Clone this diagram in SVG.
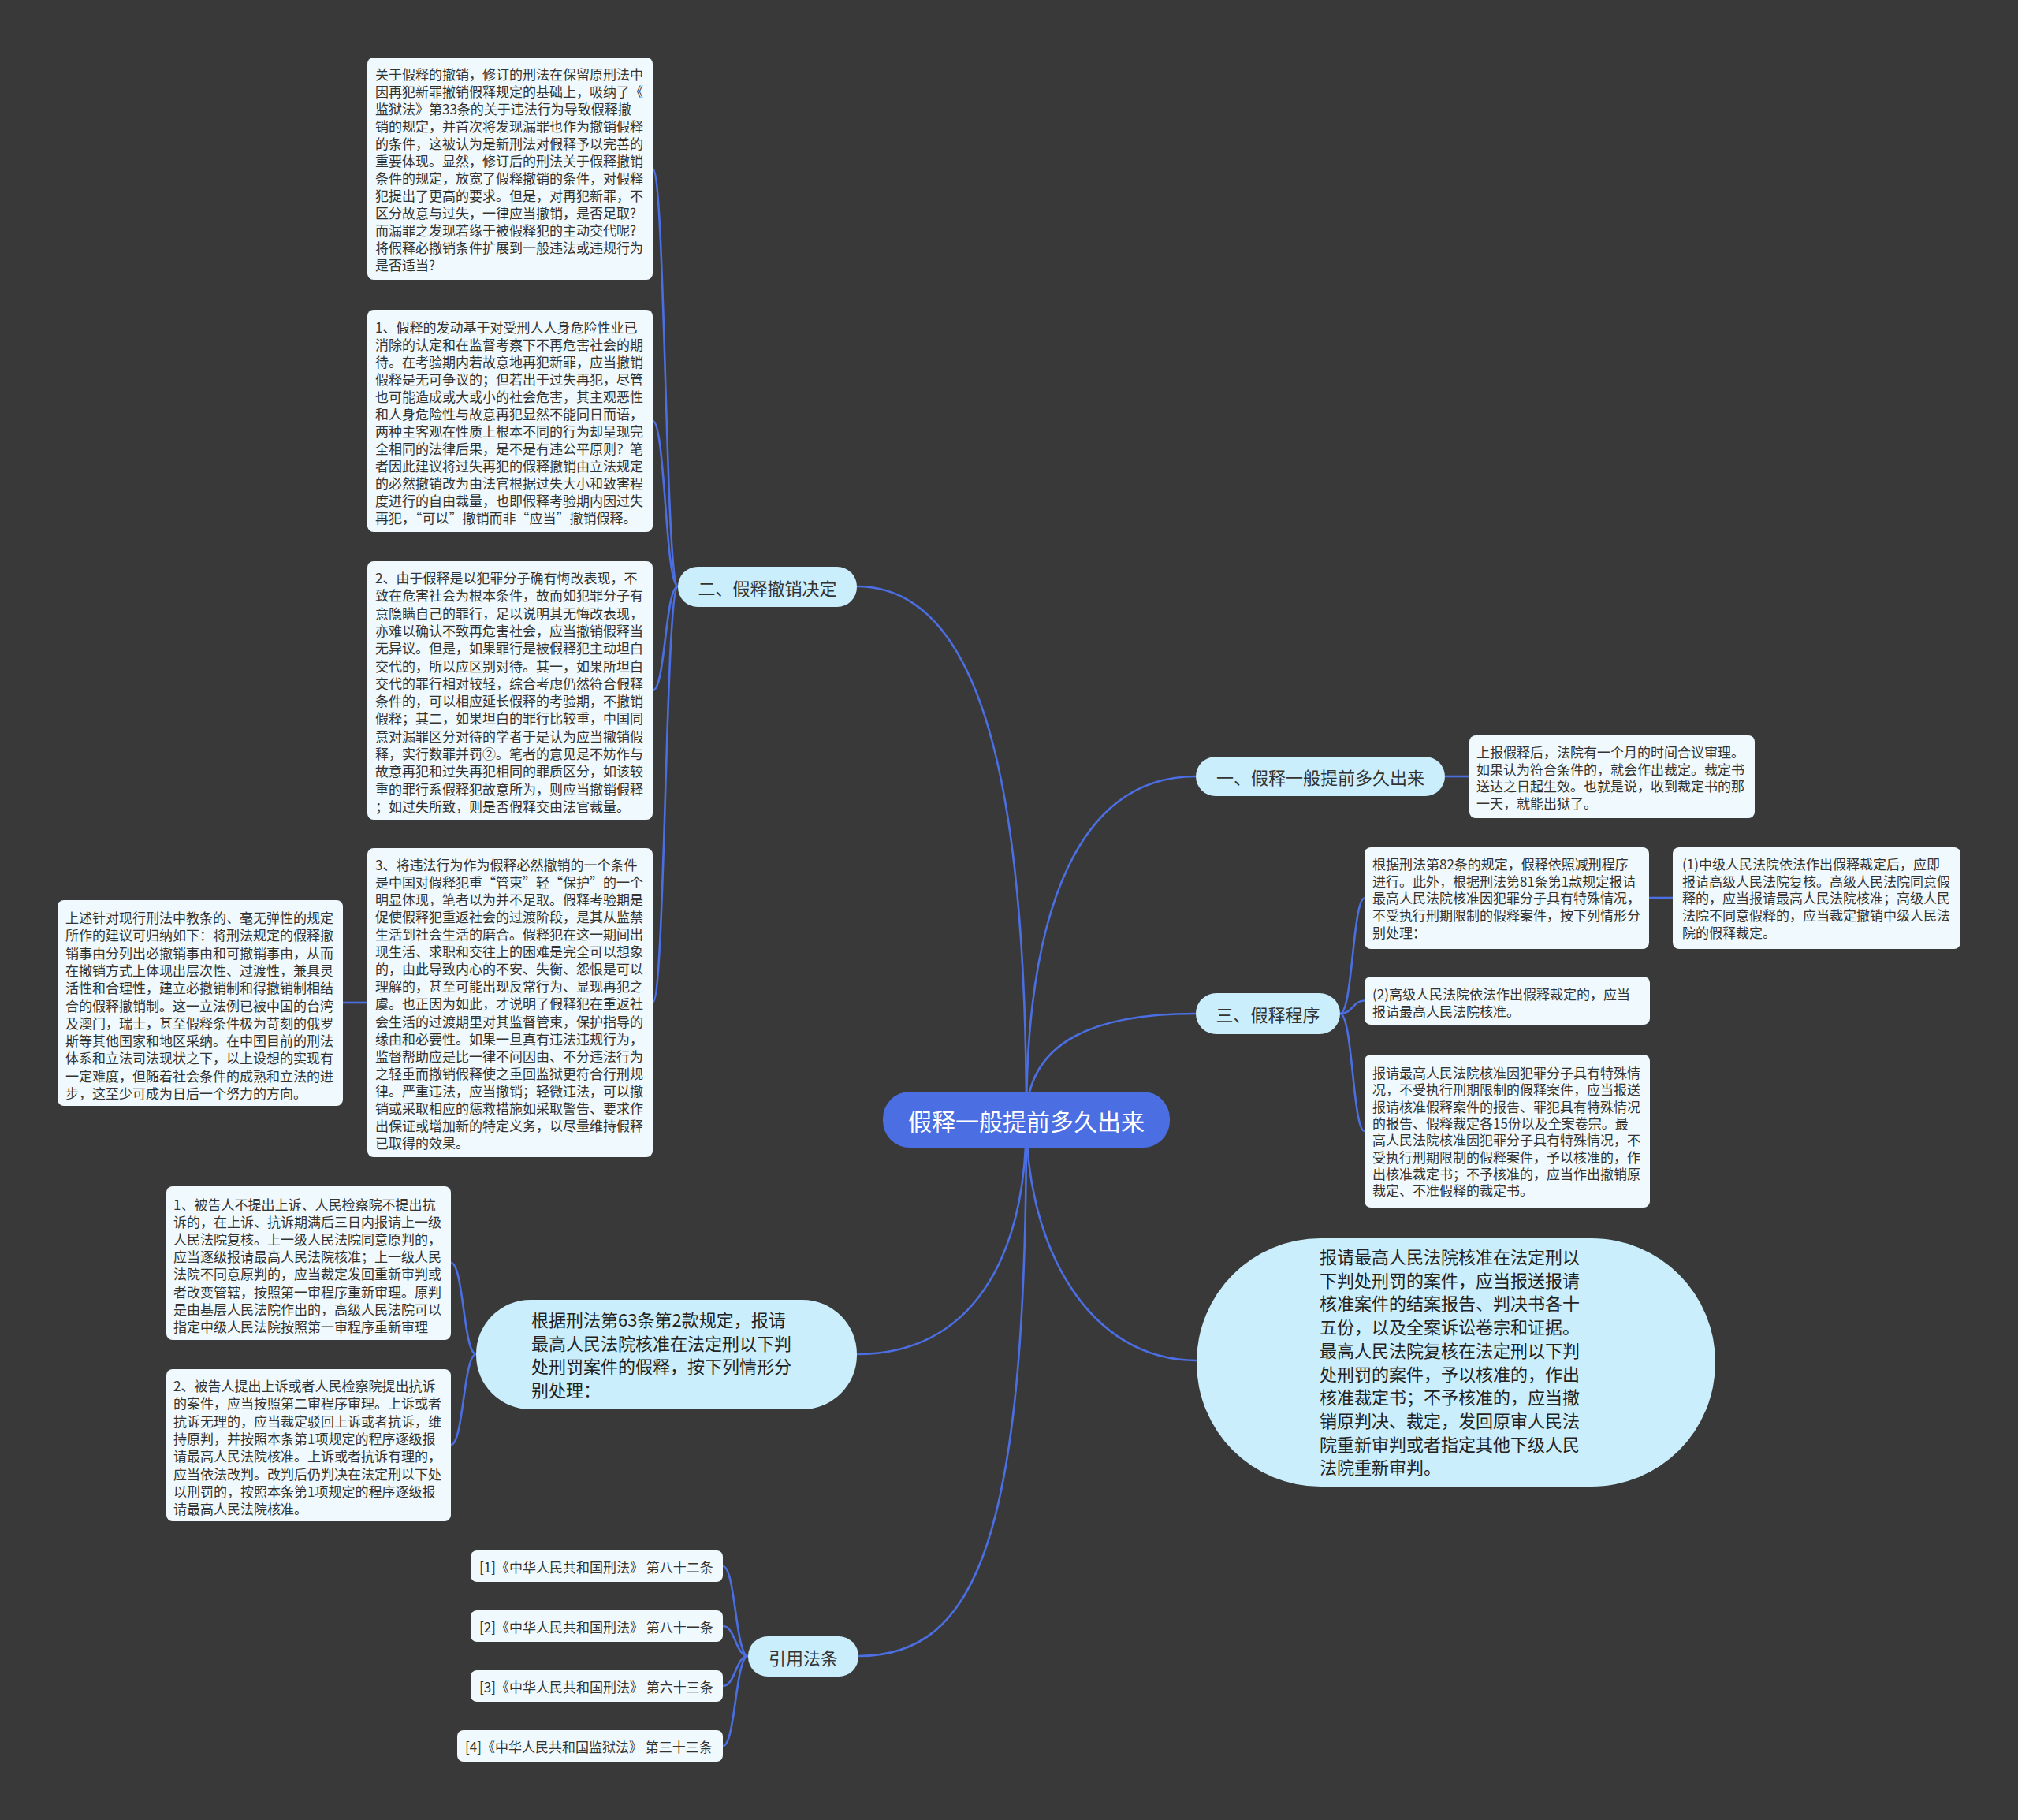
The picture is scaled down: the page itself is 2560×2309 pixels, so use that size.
<svg xmlns="http://www.w3.org/2000/svg" width="2560" height="2309" viewBox="0 0 2560 2309">
<style>
text{font-family:"Noto Sans CJK SC","Noto Sans",sans-serif;dominant-baseline:central;}
.leaf rect{fill:#f0fafe;}
.leaf text{font-size:17px;fill:#333;}
.br rect{fill:#caeefc;}
.br text{font-size:22px;fill:#333;}
.big text{font-size:22px;fill:#222;}
.conn path{fill:none;stroke:#4b6ee2;stroke-width:2.6;}
</style>
<rect x="0" y="0" width="2560" height="2309" fill="#393939"/>
<g id="connectors" class="conn">
<path d="M1087,744 C1260,744 1302,1050 1302,1420"/>
<path d="M1302,1420 C1302,1150 1370,985 1517,985"/>
<path d="M1302,1420 C1302,1320 1390,1286 1517,1286"/>
<path d="M1302,1420 C1302,1580 1380,1726 1518,1726"/>
<path d="M1302,1420 C1302,1600 1230,1718 1087,1718"/>
<path d="M1302,1420 C1302,1950 1240,2101 1089,2101"/>
<path d="M860,744 C844,744 844,214 828,214"/>
<path d="M860,744 C844,744 844,534 828,534"/>
<path d="M860,744 C844,744 844,876 828,876"/>
<path d="M860,744 C844,744 844,1272 828,1272"/>
<path d="M466,1272 L435,1272"/>
<path d="M1833,985 L1864,985"/>
<path d="M1700,1286 C1716,1286 1716,1139.5 1731,1139.5"/>
<path d="M1700,1286 C1716,1286 1716,1269.5 1731,1269.5"/>
<path d="M1700,1286 C1716,1286 1716,1435 1731,1435"/>
<path d="M2092,1139 L2122,1139"/>
<path d="M604,1718 C588,1718 588,1602 572,1602"/>
<path d="M604,1718 C588,1718 588,1833 572,1833"/>
<path d="M949,2101 C933,2101 933,1987 917,1987"/>
<path d="M949,2101 C933,2101 933,2063 917,2063"/>
<path d="M949,2101 C933,2101 933,2139 917,2139"/>
<path d="M949,2101 C933,2101 933,2215 917,2215"/>
</g>
<g id="center">
<rect x="1120" y="1385" width="364" height="71" rx="34" fill="#4b6ee2"/>
<text x="1302" y="1421" text-anchor="middle" font-size="30" fill="#ffffff">假释一般提前多久出来</text>
</g>
<g id="branch-revoke" class="br">
<rect x="860" y="719" width="227" height="51" rx="25"/>
<text x="973.5" y="744.5" text-anchor="middle">二、假释撤销决定</text>
</g>
<g id="branch-when" class="br">
<rect x="1517" y="960" width="316" height="50" rx="25"/>
<text x="1675" y="985" text-anchor="middle">一、假释一般提前多久出来</text>
</g>
<g id="branch-proc" class="br">
<rect x="1517" y="1260" width="183" height="52" rx="26"/>
<text x="1608.5" y="1286" text-anchor="middle">三、假释程序</text>
</g>
<g id="branch-cite" class="br">
<rect x="949" y="2076" width="140" height="51" rx="25"/>
<text x="1019" y="2101.5" text-anchor="middle">引用法条</text>
</g>
<g id="branch-big" class="br big">
<rect x="1518" y="1571" width="658" height="315" rx="157"/>
<text x="1674" y="1593"><tspan x="1674" dy="0">报请最高人民法院核准在法定刑以</tspan><tspan x="1674" dy="29.7">下判处刑罚的案件，应当报送报请</tspan><tspan x="1674" dy="29.7">核准案件的结案报告、判决书各十</tspan><tspan x="1674" dy="29.7">五份，以及全案诉讼卷宗和证据。</tspan><tspan x="1674" dy="29.7">最高人民法院复核在法定刑以下判</tspan><tspan x="1674" dy="29.7">处刑罚的案件，予以核准的，作出</tspan><tspan x="1674" dy="29.7">核准裁定书；不予核准的，应当撤</tspan><tspan x="1674" dy="29.7">销原判决、裁定，发回原审人民法</tspan><tspan x="1674" dy="29.7">院重新审判或者指定其他下级人民</tspan><tspan x="1674" dy="29.7">法院重新审判。</tspan></text>
</g>
<g id="branch-63" class="br big">
<rect x="604" y="1649" width="483" height="139" rx="69"/>
<text x="674" y="1673"><tspan x="674" dy="0">根据刑法第63条第2款规定，报请</tspan><tspan x="674" dy="29.6">最高人民法院核准在法定刑以下判</tspan><tspan x="674" dy="29.6">处刑罚案件的假释，按下列情形分</tspan><tspan x="674" dy="29.6">别处理：</tspan></text>
</g>
<g id="leaf-a" class="leaf">
<rect x="466" y="73" width="362" height="282" rx="8"/>
<text x="476" y="93"><tspan x="476" dy="0">关于假释的撤销，修订的刑法在保留原刑法中</tspan><tspan x="476" dy="22">因再犯新罪撤销假释规定的基础上，吸纳了《</tspan><tspan x="476" dy="22">监狱法》第33条的关于违法行为导致假释撤</tspan><tspan x="476" dy="22">销的规定，并首次将发现漏罪也作为撤销假释</tspan><tspan x="476" dy="22">的条件，这被认为是新刑法对假释予以完善的</tspan><tspan x="476" dy="22">重要体现。显然，修订后的刑法关于假释撤销</tspan><tspan x="476" dy="22">条件的规定，放宽了假释撤销的条件，对假释</tspan><tspan x="476" dy="22">犯提出了更高的要求。但是，对再犯新罪，不</tspan><tspan x="476" dy="22">区分故意与过失，一律应当撤销，是否足取?</tspan><tspan x="476" dy="22">而漏罪之发现若缘于被假释犯的主动交代呢?</tspan><tspan x="476" dy="22">将假释必撤销条件扩展到一般违法或违规行为</tspan><tspan x="476" dy="22">是否适当?</tspan></text>
</g>
<g id="leaf-b" class="leaf">
<rect x="466" y="393" width="362" height="282" rx="8"/>
<text x="476" y="414"><tspan x="476" dy="0">1、假释的发动基于对受刑人人身危险性业已</tspan><tspan x="476" dy="22">消除的认定和在监督考察下不再危害社会的期</tspan><tspan x="476" dy="22">待。在考验期内若故意地再犯新罪，应当撤销</tspan><tspan x="476" dy="22">假释是无可争议的；但若出于过失再犯，尽管</tspan><tspan x="476" dy="22">也可能造成或大或小的社会危害，其主观恶性</tspan><tspan x="476" dy="22">和人身危险性与故意再犯显然不能同日而语，</tspan><tspan x="476" dy="22">两种主客观在性质上根本不同的行为却呈现完</tspan><tspan x="476" dy="22">全相同的法律后果，是不是有违公平原则？笔</tspan><tspan x="476" dy="22">者因此建议将过失再犯的假释撤销由立法规定</tspan><tspan x="476" dy="22">的必然撤销改为由法官根据过失大小和致害程</tspan><tspan x="476" dy="22">度进行的自由裁量，也即假释考验期内因过失</tspan><tspan x="476" dy="22">再犯，“可以”撤销而非“应当”撤销假释。</tspan></text>
</g>
<g id="leaf-c" class="leaf">
<rect x="466" y="712" width="362" height="328" rx="8"/>
<text x="476" y="732"><tspan x="476" dy="0">2、由于假释是以犯罪分子确有悔改表现，不</tspan><tspan x="476" dy="22.3">致在危害社会为根本条件，故而如犯罪分子有</tspan><tspan x="476" dy="22.3">意隐瞒自己的罪行，足以说明其无悔改表现，</tspan><tspan x="476" dy="22.3">亦难以确认不致再危害社会，应当撤销假释当</tspan><tspan x="476" dy="22.3">无异议。但是，如果罪行是被假释犯主动坦白</tspan><tspan x="476" dy="22.3">交代的，所以应区别对待。其一，如果所坦白</tspan><tspan x="476" dy="22.3">交代的罪行相对较轻，综合考虑仍然符合假释</tspan><tspan x="476" dy="22.3">条件的，可以相应延长假释的考验期，不撤销</tspan><tspan x="476" dy="22.3">假释；其二，如果坦白的罪行比较重，中国同</tspan><tspan x="476" dy="22.3">意对漏罪区分对待的学者于是认为应当撤销假</tspan><tspan x="476" dy="22.3">释，实行数罪并罚②。笔者的意见是不妨作与</tspan><tspan x="476" dy="22.3">故意再犯和过失再犯相同的罪质区分，如该较</tspan><tspan x="476" dy="22.3">重的罪行系假释犯故意所为，则应当撤销假释</tspan><tspan x="476" dy="22.3">；如过失所致，则是否假释交由法官裁量。</tspan></text>
</g>
<g id="leaf-d" class="leaf">
<rect x="466" y="1076" width="362" height="392" rx="8"/>
<text x="476" y="1096"><tspan x="476" dy="0">3、将违法行为作为假释必然撤销的一个条件</tspan><tspan x="476" dy="22.06">是中国对假释犯重“管束”轻“保护”的一个</tspan><tspan x="476" dy="22.06">明显体现，笔者以为并不足取。假释考验期是</tspan><tspan x="476" dy="22.06">促使假释犯重返社会的过渡阶段，是其从监禁</tspan><tspan x="476" dy="22.06">生活到社会生活的磨合。假释犯在这一期间出</tspan><tspan x="476" dy="22.06">现生活、求职和交往上的困难是完全可以想象</tspan><tspan x="476" dy="22.06">的，由此导致内心的不安、失衡、怨恨是可以</tspan><tspan x="476" dy="22.06">理解的，甚至可能出现反常行为、显现再犯之</tspan><tspan x="476" dy="22.06">虞。也正因为如此，才说明了假释犯在重返社</tspan><tspan x="476" dy="22.06">会生活的过渡期里对其监督管束，保护指导的</tspan><tspan x="476" dy="22.06">缘由和必要性。如果一旦真有违法违规行为，</tspan><tspan x="476" dy="22.06">监督帮助应是比一律不问因由、不分违法行为</tspan><tspan x="476" dy="22.06">之轻重而撤销假释使之重回监狱更符合行刑规</tspan><tspan x="476" dy="22.06">律。严重违法，应当撤销；轻微违法，可以撤</tspan><tspan x="476" dy="22.06">销或采取相应的惩救措施如采取警告、要求作</tspan><tspan x="476" dy="22.06">出保证或增加新的特定义务，以尽量维持假释</tspan><tspan x="476" dy="22.06">已取得的效果。</tspan></text>
</g>
<g id="leaf-e" class="leaf">
<rect x="73" y="1142" width="362" height="261" rx="8"/>
<text x="83" y="1163"><tspan x="83" dy="0">上述针对现行刑法中教条的、毫无弹性的规定</tspan><tspan x="83" dy="22.3">所作的建议可归纳如下：将刑法规定的假释撤</tspan><tspan x="83" dy="22.3">销事由分列出必撤销事由和可撤销事由，从而</tspan><tspan x="83" dy="22.3">在撤销方式上体现出层次性、过渡性，兼具灵</tspan><tspan x="83" dy="22.3">活性和合理性，建立必撤销制和得撤销制相结</tspan><tspan x="83" dy="22.3">合的假释撤销制。这一立法例已被中国的台湾</tspan><tspan x="83" dy="22.3">及澳门，瑞士，甚至假释条件极为苛刻的俄罗</tspan><tspan x="83" dy="22.3">斯等其他国家和地区采纳。在中国目前的刑法</tspan><tspan x="83" dy="22.3">体系和立法司法现状之下，以上设想的实现有</tspan><tspan x="83" dy="22.3">一定难度，但随着社会条件的成熟和立法的进</tspan><tspan x="83" dy="22.3">步，这至少可成为日后一个努力的方向。</tspan></text>
</g>
<g id="leaf-f" class="leaf">
<rect x="211" y="1505" width="361" height="195" rx="8"/>
<text x="220" y="1527"><tspan x="220" dy="0">1、被告人不提出上诉、人民检察院不提出抗</tspan><tspan x="220" dy="22.1">诉的，在上诉、抗诉期满后三日内报请上一级</tspan><tspan x="220" dy="22.1">人民法院复核。上一级人民法院同意原判的，</tspan><tspan x="220" dy="22.1">应当逐级报请最高人民法院核准；上一级人民</tspan><tspan x="220" dy="22.1">法院不同意原判的，应当裁定发回重新审判或</tspan><tspan x="220" dy="22.1">者改变管辖，按照第一审程序重新审理。原判</tspan><tspan x="220" dy="22.1">是由基层人民法院作出的，高级人民法院可以</tspan><tspan x="220" dy="22.1">指定中级人民法院按照第一审程序重新审理</tspan></text>
</g>
<g id="leaf-g" class="leaf">
<rect x="211" y="1737" width="361" height="193" rx="8"/>
<text x="220" y="1757"><tspan x="220" dy="0">2、被告人提出上诉或者人民检察院提出抗诉</tspan><tspan x="220" dy="22.3">的案件，应当按照第二审程序审理。上诉或者</tspan><tspan x="220" dy="22.3">抗诉无理的，应当裁定驳回上诉或者抗诉，维</tspan><tspan x="220" dy="22.3">持原判，并按照本条第1项规定的程序逐级报</tspan><tspan x="220" dy="22.3">请最高人民法院核准。上诉或者抗诉有理的，</tspan><tspan x="220" dy="22.3">应当依法改判。改判后仍判决在法定刑以下处</tspan><tspan x="220" dy="22.3">以刑罚的，按照本条第1项规定的程序逐级报</tspan><tspan x="220" dy="22.3">请最高人民法院核准。</tspan></text>
</g>
<g id="leaf-h" class="leaf">
<rect x="1864" y="933" width="362" height="105" rx="8"/>
<text x="1873" y="953"><tspan x="1873" dy="0">上报假释后，法院有一个月的时间合议审理。</tspan><tspan x="1873" dy="21.5">如果认为符合条件的，就会作出裁定。裁定书</tspan><tspan x="1873" dy="21.5">送达之日起生效。也就是说，收到裁定书的那</tspan><tspan x="1873" dy="21.5">一天，就能出狱了。</tspan></text>
</g>
<g id="leaf-i" class="leaf">
<rect x="1731" y="1075" width="361" height="129" rx="8"/>
<text x="1741" y="1095"><tspan x="1741" dy="0">根据刑法第82条的规定，假释依照减刑程序</tspan><tspan x="1741" dy="21.7">进行。此外，根据刑法第81条第1款规定报请</tspan><tspan x="1741" dy="21.7">最高人民法院核准因犯罪分子具有特殊情况，</tspan><tspan x="1741" dy="21.7">不受执行刑期限制的假释案件，按下列情形分</tspan><tspan x="1741" dy="21.7">别处理：</tspan></text>
</g>
<g id="leaf-j" class="leaf">
<rect x="2122" y="1075" width="365" height="129" rx="8"/>
<text x="2134" y="1095"><tspan x="2134" dy="0">(1)中级人民法院依法作出假释裁定后，应即</tspan><tspan x="2134" dy="21.7">报请高级人民法院复核。高级人民法院同意假</tspan><tspan x="2134" dy="21.7">释的，应当报请最高人民法院核准；高级人民</tspan><tspan x="2134" dy="21.7">法院不同意假释的，应当裁定撤销中级人民法</tspan><tspan x="2134" dy="21.7">院的假释裁定。</tspan></text>
</g>
<g id="leaf-k" class="leaf">
<rect x="1731" y="1239" width="362" height="61" rx="8"/>
<text x="1741" y="1260"><tspan x="1741" dy="0">(2)高级人民法院依法作出假释裁定的，应当</tspan><tspan x="1741" dy="21.7">报请最高人民法院核准。</tspan></text>
</g>
<g id="leaf-l" class="leaf">
<rect x="1731" y="1338" width="362" height="194" rx="8"/>
<text x="1741" y="1360"><tspan x="1741" dy="0">报请最高人民法院核准因犯罪分子具有特殊情</tspan><tspan x="1741" dy="21.3">况，不受执行刑期限制的假释案件，应当报送</tspan><tspan x="1741" dy="21.3">报请核准假释案件的报告、罪犯具有特殊情况</tspan><tspan x="1741" dy="21.3">的报告、假释裁定各15份以及全案卷宗。最</tspan><tspan x="1741" dy="21.3">高人民法院核准因犯罪分子具有特殊情况，不</tspan><tspan x="1741" dy="21.3">受执行刑期限制的假释案件，予以核准的，作</tspan><tspan x="1741" dy="21.3">出核准裁定书；不予核准的，应当作出撤销原</tspan><tspan x="1741" dy="21.3">裁定、不准假释的裁定书。</tspan></text>
</g>
<g id="cite-1" class="leaf">
<rect x="597" y="1967" width="320" height="40" rx="8"/>
<text x="608" y="1987">[1]《中华人民共和国刑法》 第八十二条</text>
</g>
<g id="cite-2" class="leaf">
<rect x="597" y="2043" width="320" height="40" rx="8"/>
<text x="608" y="2063">[2]《中华人民共和国刑法》 第八十一条</text>
</g>
<g id="cite-3" class="leaf">
<rect x="597" y="2119" width="320" height="40" rx="8"/>
<text x="608" y="2139">[3]《中华人民共和国刑法》 第六十三条</text>
</g>
<g id="cite-4" class="leaf">
<rect x="580" y="2195" width="337" height="40" rx="8"/>
<text x="590" y="2215">[4]《中华人民共和国监狱法》 第三十三条</text>
</g>
</svg>
